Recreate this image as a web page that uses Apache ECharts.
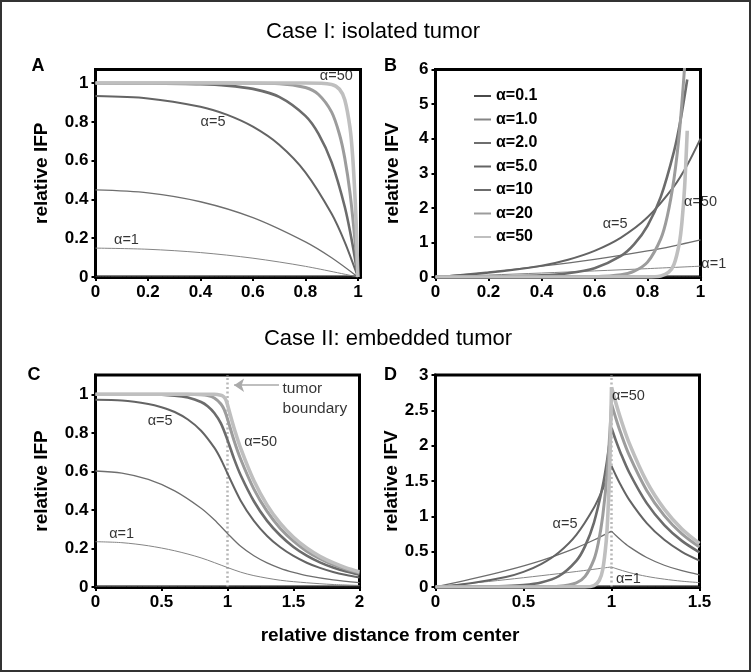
<!DOCTYPE html>
<html><head><meta charset="utf-8">
<script src="https://cdn.jsdelivr.net/npm/echarts@6/dist/echarts.min.js"></script>
<style>html,body{margin:0;padding:0;background:#fff}#c{width:751px;height:672px}</style>
</head><body><div id="c"></div>
<script>
// ---------- categories ----------
const alphaNames = ['α=0.1','α=1.0','α=2.0','α=5.0','α=10','α=20','α=50'];

// ---------- Panel A: relative IFP, isolated tumor ----------
const ifpIso_a01 = [[0,0.0017],[0.5,0.0012],[1,0]];
const ifpIso_a1  = [[0,0.149],[0.2,0.143],[0.4,0.126],[0.6,0.097],[0.8,0.055],[1,0]];
const ifpIso_a2  = [[0,0.449],[0.2,0.434],[0.4,0.388],[0.6,0.306],[0.8,0.181],[0.9,0.099],[1,0]];
const ifpIso_a5  = [[0,0.933],[0.2,0.921],[0.4,0.878],[0.5,0.837],[0.6,0.775],[0.7,0.682],[0.8,0.540],[0.9,0.326],[0.95,0.180],[1,0]];
const ifpIso_a10 = [[0,0.999],[0.2,0.998],[0.4,0.994],[0.5,0.987],[0.6,0.970],[0.7,0.929],[0.8,0.831],[0.85,0.738],[0.9,0.591],[0.95,0.362],[0.98,0.165],[1,0]];
const ifpIso_a20 = [[0,1],[0.5,1],[0.7,0.997],[0.8,0.977],[0.85,0.941],[0.9,0.850],[0.93,0.735],[0.95,0.613],[0.97,0.434],[0.99,0.173],[1,0]];
const ifpIso_a50 = [[0,1],[0.8,1],[0.9,0.993],[0.93,0.968],[0.95,0.914],[0.97,0.770],[0.98,0.625],[0.99,0.387],[0.995,0.217],[1,0]];

// ---------- Panel B: relative IFV, isolated tumor ----------
const ifvIso_a01 = [[0,0],[0.5,0.0017],[1,0.0033]];
const ifvIso_a1  = [[0,0],[0.2,0.057],[0.4,0.115],[0.6,0.176],[0.8,0.242],[1,0.313]];
const ifvIso_a2  = [[0,0],[0.2,0.149],[0.4,0.313],[0.6,0.508],[0.8,0.753],[0.9,0.903],[1,1.075]];
const ifvIso_a5  = [[0,0],[0.2,0.124],[0.4,0.328],[0.5,0.500],[0.6,0.756],[0.7,1.140],[0.8,1.725],[0.9,2.621],[0.95,3.237],[1,4.0]];
const ifvIso_a10 = [[0,0],[0.2,0.009],[0.4,0.047],[0.5,0.108],[0.6,0.254],[0.7,0.610],[0.75,0.949],[0.8,1.480],[0.85,2.316],[0.9,3.633],[0.925,4.555],[0.95,5.71]];
const ifvIso_a20 = [[0,0],[0.4,0.0003],[0.5,0.0016],[0.6,0.010],[0.7,0.066],[0.75,0.168],[0.8,0.429],[0.85,1.103],[0.875,1.769],[0.9,2.840],[0.92,4.150],[0.94,6.07],[0.95,7.34]];
const ifvIso_a50 = [[0,0],[0.8,0.003],[0.85,0.032],[0.88,0.138],[0.9,0.366],[0.92,0.974],[0.93,1.589],[0.94,2.592],[0.95,4.23]];

// ---------- Panel C: relative IFP, embedded tumor ----------
const ifpEmb_a01 = [[0,0.0029],[0.5,0.0025],[1,0.0012],[1.5,0.0003],[2,0.0001]];
const ifpEmb_a1  = [[0,0.235],[0.2,0.230],[0.4,0.214],[0.6,0.188],[0.8,0.151],[1,0.101],[1.1,0.077],[1.2,0.059],[1.4,0.035],[1.6,0.022],[1.8,0.013],[2,0.008]];
const ifpEmb_a2  = [[0,0.602],[0.2,0.591],[0.4,0.558],[0.6,0.499],[0.8,0.409],[0.9,0.349],[1,0.278],[1.1,0.211],[1.2,0.162],[1.3,0.125],[1.4,0.097],[1.5,0.076],[1.6,0.059],[1.8,0.037],[2,0.023]];
const ifpEmb_a5  = [[0,0.972],[0.2,0.968],[0.4,0.950],[0.5,0.933],[0.6,0.908],[0.7,0.869],[0.8,0.811],[0.9,0.723],[0.95,0.663],[1,0.589],[1.1,0.448],[1.2,0.343],[1.3,0.265],[1.4,0.206],[1.5,0.161],[1.6,0.126],[1.7,0.099],[1.8,0.078],[1.9,0.062],[2,0.049]];
const ifpEmb_a10 = [[0,1.0],[0.4,0.999],[0.6,0.993],[0.7,0.983],[0.8,0.960],[0.85,0.938],[0.9,0.903],[0.95,0.849],[1,0.763],[1.05,0.665],[1.1,0.580],[1.2,0.445],[1.3,0.343],[1.4,0.267],[1.5,0.208],[1.6,0.163],[1.7,0.128],[1.8,0.101],[1.9,0.080],[2,0.064]];
const ifpEmb_a20 = [[0,1.0],[0.7,0.9995],[0.8,0.997],[0.85,0.993],[0.9,0.981],[0.95,0.950],[0.975,0.920],[1,0.872],[1.05,0.759],[1.1,0.663],[1.2,0.508],[1.3,0.392],[1.4,0.304],[1.5,0.238],[1.6,0.186],[1.7,0.147],[1.8,0.116],[1.9,0.092],[2,0.073]];
const ifpEmb_a50 = [[0,1.0],[0.9,1.0],[0.95,0.995],[0.97,0.988],[0.98,0.980],[0.99,0.967],[1,0.946],[1.025,0.883],[1.05,0.824],[1.1,0.719],[1.2,0.551],[1.3,0.425],[1.4,0.330],[1.5,0.258],[1.6,0.202],[1.7,0.159],[1.8,0.126],[1.9,0.099],[2,0.079]];

// ---------- Panel D: relative IFV, embedded tumor ----------
const ifvEmb_a01 = [[0,0],[1,0.0033],[1.5,0.001]];
const ifvEmb_a1  = [[0,0],[0.2,0.052],[0.4,0.104],[0.6,0.160],[0.8,0.219],[1,0.284],[1.025,0.261],[1.1,0.205],[1.2,0.150],[1.3,0.111],[1.4,0.082],[1.5,0.062]];
const ifvEmb_a2  = [[0,0],[0.2,0.110],[0.4,0.231],[0.6,0.374],[0.8,0.555],[0.9,0.665],[1,0.791],[1.025,0.728],[1.05,0.671],[1.1,0.571],[1.2,0.417],[1.3,0.308],[1.4,0.230],[1.5,0.173]];
const ifvEmb_a5  = [[0,0],[0.2,0.053],[0.4,0.141],[0.5,0.214],[0.6,0.324],[0.7,0.489],[0.8,0.739],[0.9,1.123],[0.95,1.387],[0.975,1.542],[1,1.714],[1.025,1.578],[1.05,1.454],[1.1,1.237],[1.2,0.905],[1.3,0.668],[1.4,0.498],[1.5,0.374]];
const ifvEmb_a10 = [[0,0],[0.2,0.002],[0.4,0.012],[0.5,0.027],[0.6,0.064],[0.7,0.152],[0.8,0.370],[0.85,0.579],[0.9,0.908],[0.95,1.428],[0.975,1.792],[1,2.25],[1.025,2.071],[1.05,1.908],[1.1,1.624],[1.2,1.187],[1.3,0.877],[1.4,0.653],[1.5,0.491]];
const ifvEmb_a20 = [[0,0],[0.5,0.0002],[0.6,0.0014],[0.7,0.009],[0.8,0.059],[0.85,0.150],[0.9,0.387],[0.925,0.622],[0.95,1.001],[0.975,1.610],[1,2.591],[1.025,2.385],[1.05,2.197],[1.1,1.870],[1.2,1.367],[1.3,1.010],[1.4,0.752],[1.5,0.565]];
const ifvEmb_a50 = [[0,0],[0.85,0.002],[0.9,0.021],[0.93,0.092],[0.95,0.244],[0.97,0.650],[0.98,1.061],[0.99,1.732],[0.995,2.213],[1,2.827],[1.025,2.602],[1.05,2.397],[1.1,2.040],[1.2,1.491],[1.3,1.102],[1.4,0.821],[1.5,0.616]];

// ---------- tick labels ----------
const ticksA_x = [0,0.2,0.4,0.6,0.8,1];
const ticksA_y = [0,0.2,0.4,0.6,0.8,1];
const ticksB_x = [0,0.2,0.4,0.6,0.8,1];
const ticksB_y = [0,1,2,3,4,5,6];
const ticksC_x = [0,0.5,1,1.5,2];
const ticksC_y = [0,0.2,0.4,0.6,0.8,1];
const ticksD_x = [0,0.5,1,1.5];
const ticksD_y = [0,0.5,1,1.5,2,2.5,3];

// ---------- curve annotations [text, x, y] ----------
const labelsA = [['α=50',0.918,1.034],['α=5',0.448,0.80],['α=1',0.118,0.19]];
const labelsB = [['α=5',0.678,1.545],['α=50',1.0,2.17],['α=1',1.05,0.39]];
const labelsC = [['α=5',0.49,0.86],['α=50',1.251,0.752],['α=1',0.198,0.277]];
const labelsD = [['α=50',1.096,2.70],['α=5',0.736,0.898],['α=1',1.096,0.12]];
const boundaryX = 1;

// ---------- styles ----------
const FONT = "'Liberation Sans', Arial, Helvetica, sans-serif";
const lineColors = ['#4a4a4a','#858585','#6e6e6e','#646464','#6c6c6c','#9c9c9c','#bfbfbf'];
const lineWidths = [1, 1, 1.3, 2, 2.6, 3, 3.6];

const panels = [
  [ifpIso_a01,ifpIso_a1,ifpIso_a2,ifpIso_a5,ifpIso_a10,ifpIso_a20,ifpIso_a50],
  [ifvIso_a01,ifvIso_a1,ifvIso_a2,ifvIso_a5,ifvIso_a10,ifvIso_a20,ifvIso_a50],
  [ifpEmb_a01,ifpEmb_a1,ifpEmb_a2,ifpEmb_a5,ifpEmb_a10,ifpEmb_a20,ifpEmb_a50],
  [ifvEmb_a01,ifvEmb_a1,ifvEmb_a2,ifvEmb_a5,ifvEmb_a10,ifvEmb_a20,ifvEmb_a50]
];

const grids = [
  {left:95.5, top:69.5, width:265, height:207.5},
  {left:435.5, top:69.5, width:265, height:207.5},
  {left:95.5, top:375, width:264, height:212},
  {left:435.5, top:375, width:264, height:212}
].map(g => Object.assign({show:true, borderColor:'#000', borderWidth:3, backgroundColor:'transparent', containLabel:false}, g));

function fmt(ticks){
  return v => ticks.some(t => Math.abs(t - v) < 1e-9) ? String(+(+v).toFixed(2)) : '';
}
function axis(i, max, ticks, interval, extra){
  return Object.assign({
    type:'value', gridIndex:i, min:0, max:max, interval:interval,
    axisLine:{show:true, onZero:false, lineStyle:{color:'#000', width:3}},
    axisTick:{show:true, inside:false, length:4, lineStyle:{color:'#000', width:2}, customValues:ticks},
    axisLabel:{show:true, customValues:ticks, formatter:fmt(ticks), fontFamily:FONT, fontWeight:'bold', fontSize:17, color:'#000', margin:7},
    splitLine:{show:false}
  }, extra || {});
}
const yName = (txt, gap) => ({name:txt, nameLocation:'middle', nameGap:gap,
  nameTextStyle:{fontFamily:FONT, fontWeight:'bold', fontSize:19, color:'#000'}});

const xAxes = [
  axis(0, 1.01, ticksA_x, 0.2),
  axis(1, 1, ticksB_x, 0.2),
  axis(2, 2, ticksC_x, 0.5),
  axis(3, 1.5, ticksD_x, 0.5)
];
const yAxes = [
  axis(0, 1.07, ticksA_y, 0.2, yName('relative IFP', 44)),
  axis(1, 6, ticksB_y, 1, yName('relative IFV', 33)),
  axis(2, 1.1, ticksC_y, 0.2, yName('relative IFP', 44)),
  axis(3, 3, ticksD_y, 0.5, yName('relative IFV', 33))
];

const series = [];
panels.forEach((curves, p) => {
  curves.forEach((data, k) => {
    const base = {
      type:'line', name:alphaNames[k], xAxisIndex:p, yAxisIndex:p,
      symbol:'none', showSymbol:false, smooth:0.3, clip:true, silent:true,
      lineStyle:{color:lineColors[k], width:lineWidths[k]},
      itemStyle:{color:lineColors[k]}, z:2 + k * 0.01
    };
    if (p === 3) {
      series.push(Object.assign({}, base, {data: data.filter(d => d[0] <= boundaryX)}));
      series.push(Object.assign({}, base, {data: data.filter(d => d[0] >= boundaryX)}));
    } else {
      series.push(Object.assign({}, base, {data: data}));
    }
  });
});

function labelSeries(p, labels, extra){
  return Object.assign({
    type:'scatter', xAxisIndex:p, yAxisIndex:p, clip:false, silent:true, symbolSize:1,
    itemStyle:{color:'rgba(0,0,0,0)'}, z:5,
    label:{show:true, position:'inside', formatter:'{b}', fontFamily:FONT, fontSize:14.5, color:'#000'},
    data: labels.map(l => ({name:l[0], value:[l[1], l[2]]}))
  }, extra || {});
}
const dottedBoundary = {silent:true, symbol:['none','none'], label:{show:false}, z:1,
  lineStyle:{type:[2,2.5], color:'#b8b8b8', width:2.5}, data:[{xAxis:boundaryX}]};

series.push(labelSeries(0, labelsA));
series.push(labelSeries(1, labelsB));
series.push(labelSeries(2, labelsC, {markLine: dottedBoundary}));
series.push(labelSeries(3, labelsD, {markLine: dottedBoundary}));
// "tumor boundary" annotation with arrow
series.push({
  type:'scatter', xAxisIndex:2, yAxisIndex:2, clip:false, silent:true, symbolSize:1,
  itemStyle:{color:'rgba(0,0,0,0)'}, z:5,
  label:{show:true, position:'inside', align:'left', formatter:'{b}', fontFamily:FONT, fontSize:15.5, color:'#000'},
  data:[{name:'tumor', value:[1.417,1.031]},{name:'boundary', value:[1.417,0.927]}],
  markLine:{silent:true, label:{show:false}, symbol:['none','arrow'], symbolSize:10,
    lineStyle:{type:'solid', color:'#aaaaaa', width:1.5},
    itemStyle:{color:'#aaaaaa'},
    data:[[{coord:[1.39,1.047]},{coord:[1.05,1.047]}]]}
});

const txt = (x, y, text, size, weight) => ({type:'text', x:x, y:y, silent:true,
  style:{text:text, fontFamily:FONT, fontSize:size, fontWeight:weight||'normal', fill:'#000', align:'center', verticalAlign:'middle'}});

const option = {
  animation:false,
  backgroundColor:'#fff',
  grid:grids, xAxis:xAxes, yAxis:yAxes, series:series,
  legend:{show:true, data:alphaNames, orient:'vertical', left:473, top:88, padding:0,
    itemWidth:17, itemHeight:14, itemGap:7.5, selectedMode:false,
    itemStyle:{opacity:0, borderWidth:0},
    textStyle:{fontFamily:FONT, fontWeight:'bold', fontSize:16, color:'#000'}},
  graphic:[
    {type:'rect', silent:true, shape:{x:1, y:1, width:749, height:670}, style:{fill:'none', stroke:'#333', lineWidth:2}},
    txt(373, 32, 'Case I: isolated tumor', 22),
    txt(388, 339, 'Case II: embedded tumor', 22),
    txt(390, 636, 'relative distance from center', 19, 'bold'),
    txt(38, 66, 'A', 18, 'bold'),
    txt(390.5, 66, 'B', 18, 'bold'),
    txt(34, 375, 'C', 18, 'bold'),
    txt(390.5, 375, 'D', 18, 'bold')
  ]
};
const chart = echarts.init(document.getElementById('c'), null, {renderer:'canvas'});
chart.setOption(option);
</script></body></html>
